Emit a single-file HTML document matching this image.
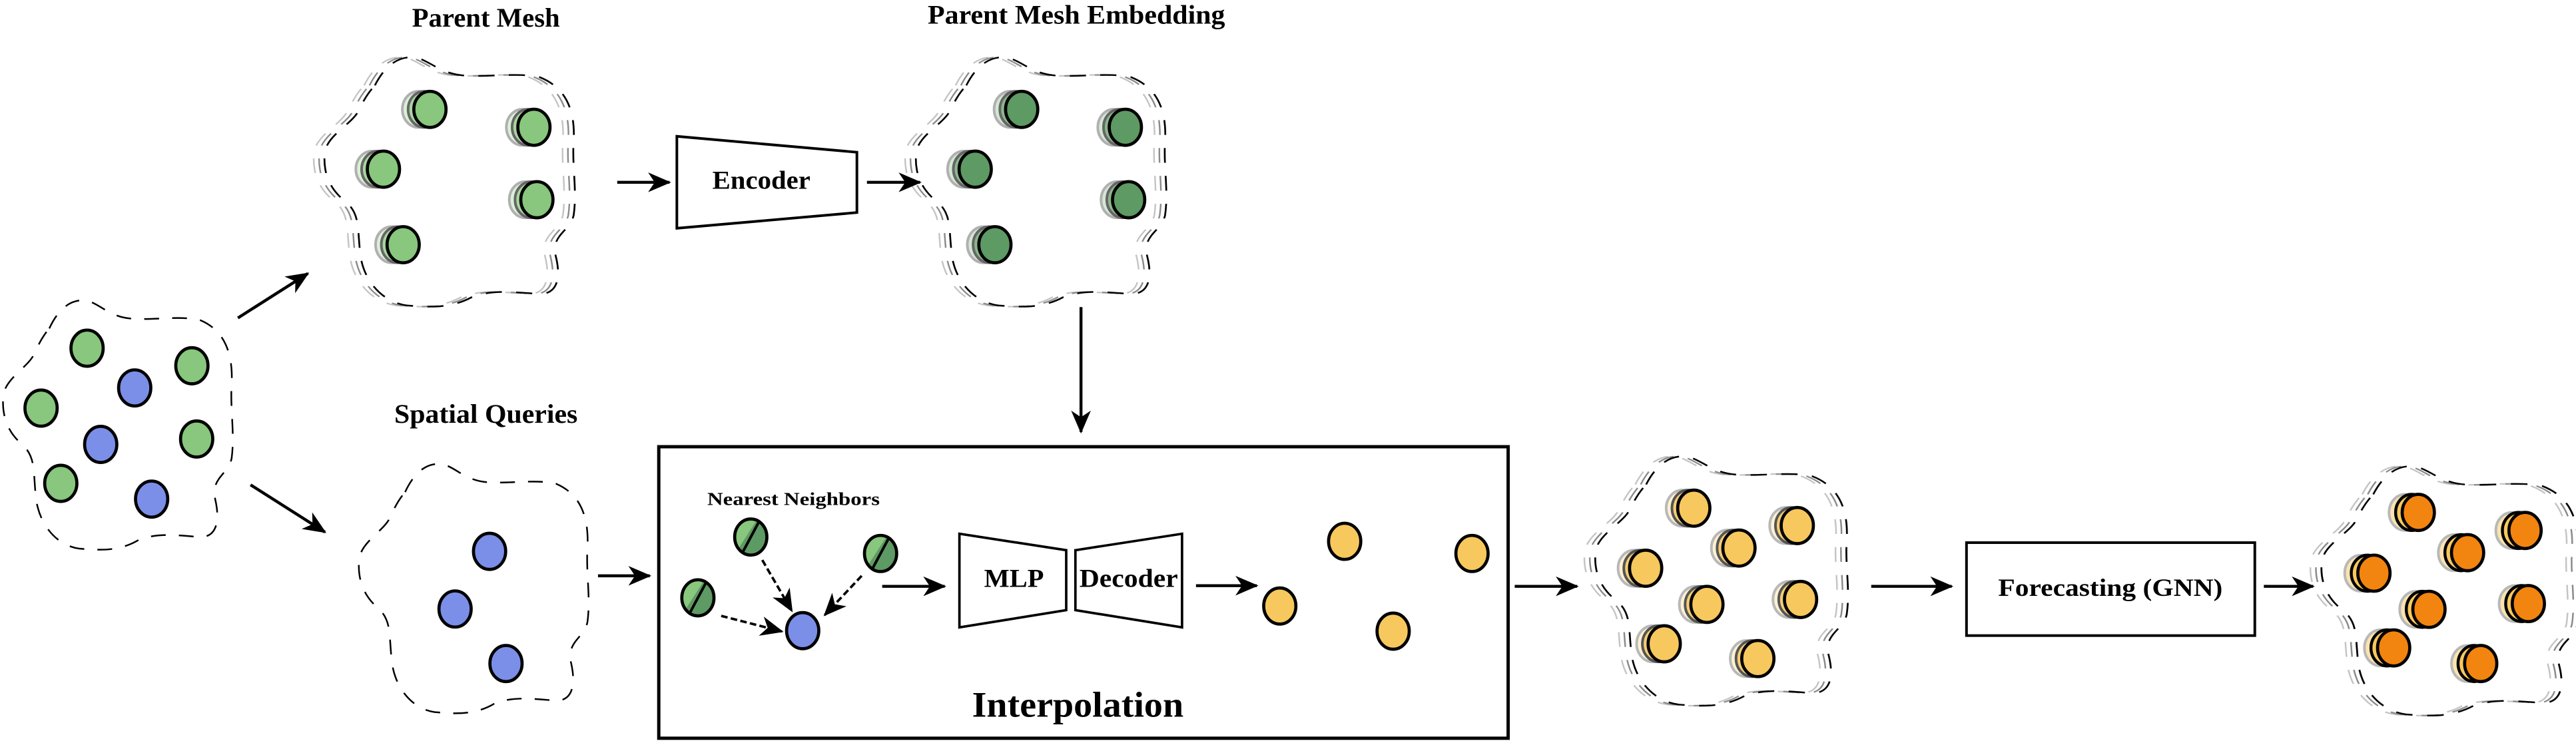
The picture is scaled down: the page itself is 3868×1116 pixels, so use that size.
<!DOCTYPE html>
<html><head><meta charset="utf-8"><style>html,body{margin:0;padding:0;background:#fff}svg{display:block}</style></head>
<body>
<svg xmlns="http://www.w3.org/2000/svg" xmlns:xlink="http://www.w3.org/1999/xlink" width="3868" height="1116" viewBox="0 0 1568 452.4" preserveAspectRatio="none">
<defs>
<marker id="ah" markerUnits="userSpaceOnUse" markerWidth="16" markerHeight="14" refX="13" refY="6" orient="auto">
<path d="M0,0 L14,6 L0,12 L4,6 Z" fill="#000"/>
</marker>
<path id="blob" d="M30,21 C36,8 44,3 52,4 C60,5 66,14 80,15 C95,16 110,13 122,16 C136,22 142,35 141,55 C140,70 143,85 141,100 C139,110 128,112 131,125 C134,138 132,148 122,148 C108,147 96,145 84,150 C72,157 60,156 48,155 C34,153 24,140 22,125 C20,108 22,100 14,92 C4,84 1,73 2,62 C3,52 16,45 20,38 C24,30 25,27 30,21 Z"/>
<g id="gblob" fill="none">
<use xlink:href="#blob" transform="translate(-6,0)" stroke="#c4c4c4" stroke-width="0.9" stroke-dasharray="9 8"/>
<use xlink:href="#blob" transform="translate(-3,0)" stroke="#8a8a8a" stroke-width="0.9" stroke-dasharray="9 8"/>
<use xlink:href="#blob" stroke="#000" stroke-width="1" stroke-dasharray="9 8"/>
</g>
<g id="gm">
<ellipse cx="-7" cy="0" rx="9.8" ry="11" fill="#dcefd8" stroke="#b0b0b0" stroke-width="1.6"/>
<ellipse cx="-3.5" cy="0" rx="9.8" ry="11" fill="#a9d69f" stroke="#666" stroke-width="1.6"/>
<ellipse cx="0" cy="0" rx="9.8" ry="11" fill="#88c77d" stroke="#000" stroke-width="1.9"/>
</g>
<g id="em">
<ellipse cx="-7" cy="0" rx="9.8" ry="11" fill="#d6e6d6" stroke="#b0b0b0" stroke-width="1.6"/>
<ellipse cx="-3.5" cy="0" rx="9.8" ry="11" fill="#8cb68e" stroke="#666" stroke-width="1.6"/>
<ellipse cx="0" cy="0" rx="9.8" ry="11" fill="#5e9a64" stroke="#000" stroke-width="1.9"/>
</g>
<g id="ym">
<ellipse cx="-7" cy="0" rx="9.8" ry="11" fill="#fdf1d4" stroke="#b8b8b8" stroke-width="1.6"/>
<ellipse cx="-3.5" cy="0" rx="9.8" ry="11" fill="#f5cd75" stroke="#555" stroke-width="1.6"/>
<ellipse cx="0" cy="0" rx="9.8" ry="11" fill="#f7c85e" stroke="#000" stroke-width="1.9"/>
</g>
<g id="om">
<ellipse cx="-8" cy="0" rx="9.8" ry="11" fill="#fbe3b0" stroke="#b8b8b8" stroke-width="1.6"/>
<ellipse cx="-4" cy="0" rx="9.8" ry="11" fill="#f7c85e" stroke="#000" stroke-width="1.8"/>
<ellipse cx="0" cy="0" rx="9.8" ry="11" fill="#f28510" stroke="#000" stroke-width="1.9"/>
</g>
<clipPath id="hc"><polygon points="-12,14 6,-14 14,-14 14,14"/></clipPath>
<g id="hg">
<ellipse cx="0" cy="0" rx="9.8" ry="11" fill="#88c77d"/>
<ellipse cx="0" cy="0" rx="9.8" ry="11" fill="#5e9a64" clip-path="url(#hc)"/>
<line x1="-4.8" y1="9" x2="4.8" y2="-9" stroke="#000" stroke-width="1.6"/>
<ellipse cx="0" cy="0" rx="9.8" ry="11" fill="none" stroke="#000" stroke-width="1.9"/>
</g>
<ellipse id="gc" cx="0" cy="0" rx="9.8" ry="11" fill="#88c77d" stroke="#000" stroke-width="1.9"/>
<ellipse id="bc" cx="0" cy="0" rx="9.8" ry="11" fill="#7b8fe8" stroke="#000" stroke-width="1.9"/>
<ellipse id="yc" cx="0" cy="0" rx="9.8" ry="11" fill="#f7c85e" stroke="#000" stroke-width="1.9"/>
</defs>

<!-- input blob -->
<use xlink:href="#blob" transform="translate(0,179)" fill="none" stroke="#000" stroke-width="1" stroke-dasharray="9 8"/>
<use xlink:href="#gc" x="53" y="212"/>
<use xlink:href="#gc" x="116.8" y="222.7"/>
<use xlink:href="#gc" x="25" y="248.5"/>
<use xlink:href="#gc" x="119.7" y="267.3"/>
<use xlink:href="#gc" x="37" y="294.3"/>
<use xlink:href="#bc" x="82" y="236.2"/>
<use xlink:href="#bc" x="61.3" y="270.6"/>
<use xlink:href="#bc" x="92.3" y="303.9"/>

<!-- spatial queries blob -->
<use xlink:href="#blob" transform="translate(216.6,278.6)" fill="none" stroke="#000" stroke-width="1" stroke-dasharray="9 8"/>
<use xlink:href="#bc" x="298" y="335.7"/>
<use xlink:href="#bc" x="277" y="370.8"/>
<use xlink:href="#bc" x="308" y="404"/>

<!-- parent mesh -->
<g transform="translate(195.5,31) scale(1.09,1)"><use xlink:href="#gblob"/></g>
<use xlink:href="#gm" x="261.7" y="66.6"/>
<use xlink:href="#gm" x="325" y="77.5"/>
<use xlink:href="#gm" x="233.4" y="103"/>
<use xlink:href="#gm" x="326.8" y="121.6"/>
<use xlink:href="#gm" x="245.4" y="149"/>

<!-- embedding mesh -->
<g transform="translate(555.5,31) scale(1.09,1)"><use xlink:href="#gblob"/></g>
<use xlink:href="#em" x="621.9" y="66.6"/>
<use xlink:href="#em" x="685" y="77.5"/>
<use xlink:href="#em" x="593.6" y="103"/>
<use xlink:href="#em" x="687" y="121.6"/>
<use xlink:href="#em" x="605.6" y="149"/>

<!-- encoder -->
<polygon points="412,83 521.6,92.7 521.6,129.4 412,139" fill="#fff" stroke="#000" stroke-width="1.6"/>

<!-- interpolation box -->
<rect x="401" y="272" width="517" height="177.5" fill="none" stroke="#000" stroke-width="2"/>
<polygon points="584,325 649,335 649,371.5 584,382" fill="#fff" stroke="#000" stroke-width="1.5"/>
<polygon points="654.6,335 719.5,325 719.5,382 654.6,371.5" fill="#fff" stroke="#000" stroke-width="1.5"/>
<use xlink:href="#hg" x="457" y="327"/>
<use xlink:href="#hg" x="424.8" y="364"/>
<use xlink:href="#hg" x="536" y="337"/>
<use xlink:href="#bc" x="488.6" y="384"/>
<g stroke="#000" stroke-width="1.5" stroke-dasharray="4 2" fill="none" marker-end="url(#ah)">
<line x1="439" y1="375" x2="476" y2="384.5"/>
<line x1="464" y1="341" x2="482" y2="372"/>
<line x1="524.5" y1="350.6" x2="502" y2="374.5"/>
</g>
<use xlink:href="#yc" x="779" y="369"/>
<use xlink:href="#yc" x="818.5" y="329.6"/>
<use xlink:href="#yc" x="848" y="384.3"/>
<use xlink:href="#yc" x="896" y="337"/>

<!-- forecast input mesh -->
<g transform="translate(969,274) scale(1.1,1)"><use xlink:href="#gblob"/></g>
<use xlink:href="#ym" x="1031" y="309.4"/>
<use xlink:href="#ym" x="1094" y="320"/>
<use xlink:href="#ym" x="1058.5" y="333.7"/>
<use xlink:href="#ym" x="1001.7" y="346"/>
<use xlink:href="#ym" x="1096" y="365"/>
<use xlink:href="#ym" x="1039" y="368"/>
<use xlink:href="#ym" x="1013" y="392"/>
<use xlink:href="#ym" x="1070" y="401"/>

<!-- forecasting box -->
<rect x="1197" y="330.4" width="175.5" height="56.6" fill="#fff" stroke="#000" stroke-width="1.6"/>

<!-- output mesh -->
<g transform="translate(1411,280) scale(1.12,1)"><use xlink:href="#gblob"/></g>
<use xlink:href="#om" x="1472" y="312"/>
<use xlink:href="#om" x="1537" y="323"/>
<use xlink:href="#om" x="1502" y="336.5"/>
<use xlink:href="#om" x="1445" y="349"/>
<use xlink:href="#om" x="1478.5" y="371"/>
<use xlink:href="#om" x="1539" y="367.5"/>
<use xlink:href="#om" x="1457" y="394.5"/>
<use xlink:href="#om" x="1510" y="404"/>

<!-- arrows -->
<g stroke="#000" stroke-width="1.8" fill="none" marker-end="url(#ah)">
<line x1="144.8" y1="193.6" x2="187.4" y2="166.5"/>
<line x1="152.5" y1="295.2" x2="197.8" y2="324"/>
<line x1="375.7" y1="111" x2="407.5" y2="111"/>
<line x1="527.7" y1="111" x2="560" y2="111"/>
<line x1="658" y1="187" x2="658" y2="263"/>
<line x1="364" y1="350.6" x2="395.5" y2="350.6"/>
<line x1="537" y1="357" x2="575" y2="357"/>
<line x1="728" y1="356.6" x2="765" y2="356.6"/>
<line x1="922" y1="357" x2="960" y2="357"/>
<line x1="1139" y1="357" x2="1188" y2="357"/>
<line x1="1378" y1="357" x2="1408" y2="357"/>
</g>

<g font-family="'Liberation Serif', serif" font-weight="bold" fill="#000">
<text x="250.8" y="16.3" font-size="16.5" textLength="90" lengthAdjust="spacingAndGlyphs">Parent Mesh</text>
<text x="564.7" y="14.3" font-size="16.5" textLength="181" lengthAdjust="spacingAndGlyphs">Parent Mesh Embedding</text>
<text x="240" y="257.5" font-size="16.5" textLength="111.6" lengthAdjust="spacingAndGlyphs">Spatial Queries</text>
<text x="433.6" y="115" font-size="16" textLength="59.7" lengthAdjust="spacingAndGlyphs">Encoder</text>
<text x="430.5" y="307.4" font-size="11" textLength="105" lengthAdjust="spacingAndGlyphs">Nearest Neighbors</text>
<text x="599" y="357.3" font-size="16" textLength="36.4" lengthAdjust="spacingAndGlyphs">MLP</text>
<text x="657" y="357.3" font-size="16" textLength="60" lengthAdjust="spacingAndGlyphs">Decoder</text>
<text x="591.7" y="436.3" font-size="22" textLength="128.7" lengthAdjust="spacingAndGlyphs">Interpolation</text>
<text x="1216.3" y="362.8" font-size="15" textLength="136.6" lengthAdjust="spacingAndGlyphs">Forecasting (GNN)</text>
</g>
</svg>
</body></html>
